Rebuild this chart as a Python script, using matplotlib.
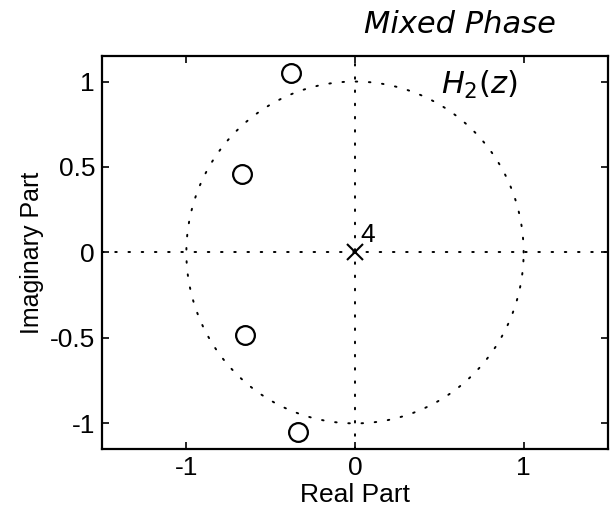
import numpy as np
import matplotlib
matplotlib.use("Agg")
import matplotlib.pyplot as plt

# Zeros of H2(z) (mixed phase) and the pole at the origin
zero_re = [-0.38, -0.67, -0.65, -0.34]
zero_im = [1.05, 0.46, -0.48, -1.05]
pole_re = [0.0]
pole_im = [0.0]
pole_order = 4

xticks = [-1, 0, 1]
yticks = [-1, -0.5, 0, 0.5, 1]

plt.rcParams["font.family"] = ["Liberation Sans", "DejaVu Sans"]

fig = plt.figure(figsize=(6.11, 5.2), dpi=100)
ax = fig.add_axes([0.167, 0.1365, 0.828, 0.756])

dot_style = dict(color="black", lw=1.4, linestyle=(0, (0.8, 6)),
                 dash_capstyle="round")

# unit circle and the real / imaginary axes
t = np.linspace(0, 2 * np.pi, 600)
ax.plot(np.cos(t), np.sin(t), **dot_style)
ax.plot([-1.5, 1.5], [0, 0], **dot_style)
ax.plot([0, 0], [-1.15, 1.15], **dot_style)

ax.plot(zero_re, zero_im, "o", ms=13.5, mfc="none", mec="black", mew=1.6)
ax.plot(pole_re, pole_im, "x", ms=11, mec="black", mew=1.5)
ax.text(pole_re[0] + 0.03, pole_im[0] + 0.03, str(pole_order),
        fontsize=19, ha="left", va="bottom")

ax.set_xlim(-1.5, 1.5)
ax.set_ylim(-1.15, 1.15)
ax.set_xticks(xticks)
ax.set_yticks(yticks)
ax.set_xticklabels([f"{v:g}" for v in xticks])
ax.set_yticklabels([f"{v:g}" for v in yticks])
ax.tick_params(direction="in", length=5, width=1.2, labelsize=19,
               top=True, right=True, pad=5)
for s in ax.spines.values():
    s.set_linewidth(1.6)

ax.set_xlabel("Real Part", fontsize=19, labelpad=2)
ax.set_ylabel("Imaginary Part", fontsize=18, labelpad=4)

# handwritten notes
fig.text(0.753, 0.952, "Mixed Phase", fontsize=22, style="italic",
         family="DejaVu Sans", fontweight="light", ha="center", va="center")
ax.text(0.51, 0.98, "$H_2(z)$", fontsize=22, ha="left", va="center")

fig.savefig("out.png", dpi=100)
